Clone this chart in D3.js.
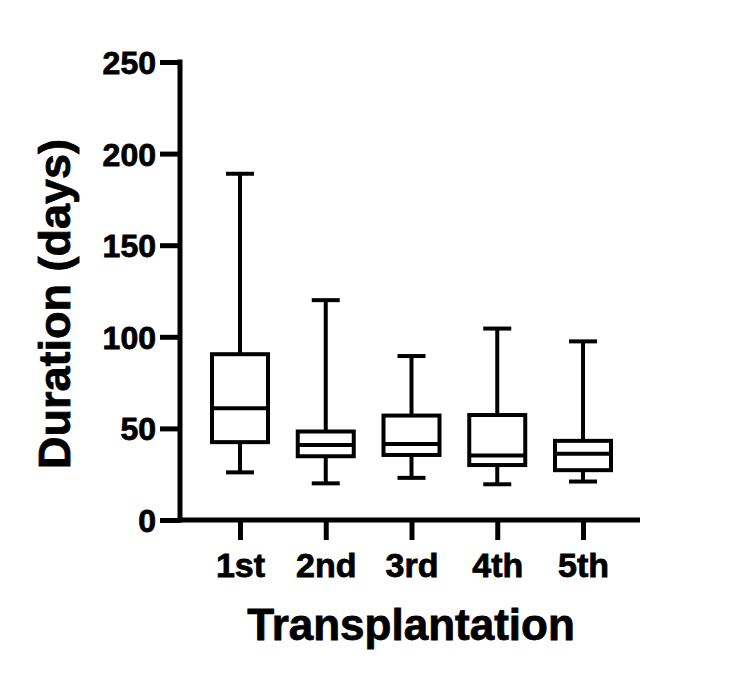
<!DOCTYPE html>
<html>
<head>
<meta charset="utf-8">
<script src="https://cdn.jsdelivr.net/npm/d3@7"></script>
<style>
html,body{margin:0;padding:0;background:#fff;}
svg{display:block;}
text{font-family:"Liberation Sans",Arial,sans-serif;font-weight:bold;fill:#000;stroke:#000;stroke-width:0.8px;}
</style>
</head>
<body>
<svg id="chart" width="750" height="682"></svg>
<script>
const categories = ["1st", "2nd", "3rd", "4th", "5th"];
const whiskerMin = [26, 20, 23, 19.5, 21];
const q1Values   = [42.5, 34.8, 35.5, 30, 27.2];
const medians    = [61, 41, 41.5, 35.2, 36.2];
const q3Values   = [90.5, 48.3, 57, 57.3, 43.2];
const whiskerMax = [189, 120, 89.5, 104.5, 97.5];
const yTicks = [0, 50, 100, 150, 200, 250];

const svg = d3.select("#chart");
const y = d3.scaleLinear().domain([0, 250]).range([520, 62]);
const x = d3.scalePoint().domain(categories).range([240, 583]);
const axisX0 = 180, axisX1 = 640, axisY = 520;
const boxW = 56, capW = 28, lw = 4;

// Y axis
const gy = svg.append("g").attr("transform", `translate(${axisX0},0)`)
  .call(d3.axisLeft(y).tickValues(yTicks).tickSize(20).tickPadding(4).tickSizeOuter(0));
gy.select(".domain").remove();
gy.selectAll(".tick line").attr("stroke", "#000").attr("stroke-width", 5);
gy.selectAll(".tick text").attr("font-size", 32).attr("dy", "0.36em");
svg.append("line").attr("x1", axisX0).attr("x2", axisX0)
  .attr("y1", y(250) - 2.5).attr("y2", axisY + 2.5)
  .attr("stroke", "#000").attr("stroke-width", 5);

// X axis
const gx = svg.append("g").attr("transform", `translate(0,${axisY})`)
  .call(d3.axisBottom(x).tickSize(20).tickPadding(13).tickSizeOuter(0));
gx.select(".domain").remove();
gx.selectAll(".tick line").attr("stroke", "#000").attr("stroke-width", 5);
gx.selectAll(".tick text").attr("font-size", 34);
svg.append("line").attr("x1", axisX0 - 2.5).attr("x2", axisX1)
  .attr("y1", axisY).attr("y2", axisY)
  .attr("stroke", "#000").attr("stroke-width", 5);

// Boxes
const data = categories.map((c, i) => ({
  c, min: whiskerMin[i], q1: q1Values[i], med: medians[i], q3: q3Values[i], max: whiskerMax[i]
}));
const g = svg.append("g").attr("stroke", "#000").attr("stroke-width", lw).attr("fill", "none");
data.forEach(d => {
  const cx = x(d.c);
  g.append("line").attr("x1", cx).attr("x2", cx).attr("y1", y(d.max)).attr("y2", y(d.q3));
  g.append("line").attr("x1", cx).attr("x2", cx).attr("y1", y(d.q1)).attr("y2", y(d.min));
  g.append("line").attr("x1", cx - capW / 2).attr("x2", cx + capW / 2).attr("y1", y(d.max)).attr("y2", y(d.max));
  g.append("line").attr("x1", cx - capW / 2).attr("x2", cx + capW / 2).attr("y1", y(d.min)).attr("y2", y(d.min));
  g.append("rect").attr("x", cx - boxW / 2).attr("width", boxW)
    .attr("y", y(d.q3)).attr("height", y(d.q1) - y(d.q3)).attr("fill", "#fff");
  g.append("line").attr("x1", cx - boxW / 2).attr("x2", cx + boxW / 2).attr("y1", y(d.med)).attr("y2", y(d.med));
});

// Axis titles
svg.append("text").attr("x", 411).attr("y", 640).attr("text-anchor", "middle")
  .attr("font-size", 44).text("Transplantation");
svg.append("text").attr("transform", "translate(70,304) rotate(-90)").attr("text-anchor", "middle")
  .attr("font-size", 45).text("Duration (days)");
</script>
</body>
</html>
